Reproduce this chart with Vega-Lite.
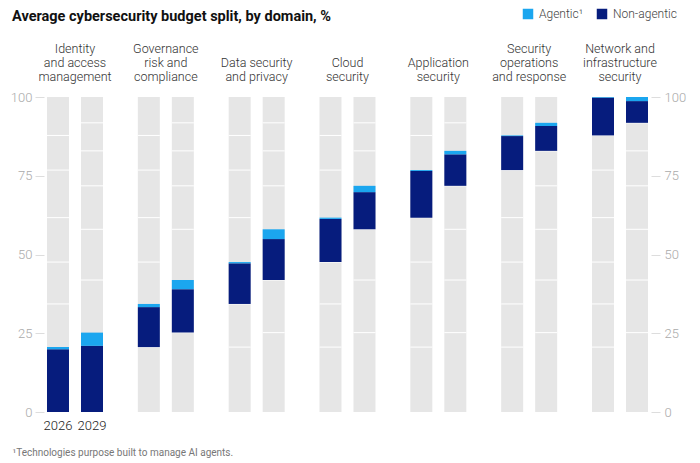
{
  "$schema": "https://vega.github.io/schema/vega-lite/v6.json",
  "width": 607,
  "height": 315,
  "autosize": {"type": "none"},
  "padding": {"left": 44, "top": 97, "right": 49, "bottom": 51},
  "background": "white",
  "config": {
    "view": {"stroke": null},
    "font": "Roboto",
    "axis": {"labelFont": "Roboto", "titleFont": "Roboto"},
    "legend": {"labelFont": "Roboto"}
  },
  "title": {
    "text": "Average cybersecurity budget split, by domain, %",
    "anchor": "start",
    "frame": "group",
    "dx": -32,
    "dy": 36,
    "offset": 20,
    "fontSize": 14.5,
    "fontWeight": "bold",
    "color": "#111111",
    "font": "Roboto"
  },
  "datasets": {
    "budget": [
      {"domain": "Identity and access management", "year": "2026", "type": "Non-agentic", "start": 0, "end": 19.9},
      {"domain": "Identity and access management", "year": "2026", "type": "Agentic", "start": 19.9, "end": 20.6},
      {"domain": "Identity and access management", "year": "2029", "type": "Non-agentic", "start": 0, "end": 21},
      {"domain": "Identity and access management", "year": "2029", "type": "Agentic", "start": 21, "end": 25.2},
      {"domain": "Governance risk and compliance", "year": "2026", "type": "Non-agentic", "start": 20.6, "end": 33.3},
      {"domain": "Governance risk and compliance", "year": "2026", "type": "Agentic", "start": 33.3, "end": 34.3},
      {"domain": "Governance risk and compliance", "year": "2029", "type": "Non-agentic", "start": 25.2, "end": 39},
      {"domain": "Governance risk and compliance", "year": "2029", "type": "Agentic", "start": 39, "end": 41.9},
      {"domain": "Data security and privacy", "year": "2026", "type": "Non-agentic", "start": 34.3, "end": 47.2},
      {"domain": "Data security and privacy", "year": "2026", "type": "Agentic", "start": 47.2, "end": 47.6},
      {"domain": "Data security and privacy", "year": "2029", "type": "Non-agentic", "start": 41.9, "end": 54.9},
      {"domain": "Data security and privacy", "year": "2029", "type": "Agentic", "start": 54.9, "end": 58},
      {"domain": "Cloud security", "year": "2026", "type": "Non-agentic", "start": 47.6, "end": 61.3},
      {"domain": "Cloud security", "year": "2026", "type": "Agentic", "start": 61.3, "end": 61.7},
      {"domain": "Cloud security", "year": "2029", "type": "Non-agentic", "start": 58, "end": 69.8},
      {"domain": "Cloud security", "year": "2029", "type": "Agentic", "start": 69.8, "end": 71.8},
      {"domain": "Application security", "year": "2026", "type": "Non-agentic", "start": 61.7, "end": 76.5},
      {"domain": "Application security", "year": "2026", "type": "Agentic", "start": 76.5, "end": 76.8},
      {"domain": "Application security", "year": "2029", "type": "Non-agentic", "start": 71.8, "end": 81.8},
      {"domain": "Application security", "year": "2029", "type": "Agentic", "start": 81.8, "end": 82.9},
      {"domain": "Security operations and response", "year": "2026", "type": "Non-agentic", "start": 76.8, "end": 87.6},
      {"domain": "Security operations and response", "year": "2026", "type": "Agentic", "start": 87.6, "end": 87.8},
      {"domain": "Security operations and response", "year": "2029", "type": "Non-agentic", "start": 82.9, "end": 90.8},
      {"domain": "Security operations and response", "year": "2029", "type": "Agentic", "start": 90.8, "end": 91.8},
      {"domain": "Network and infrastructure security", "year": "2026", "type": "Non-agentic", "start": 87.8, "end": 99.8},
      {"domain": "Network and infrastructure security", "year": "2026", "type": "Agentic", "start": 99.8, "end": 100},
      {"domain": "Network and infrastructure security", "year": "2029", "type": "Non-agentic", "start": 91.8, "end": 98.7},
      {"domain": "Network and infrastructure security", "year": "2029", "type": "Agentic", "start": 98.7, "end": 100}
    ]
  },
  "data": {"name": "budget"},
  "layer": [
    {
      "transform": [{"filter": "datum.type == 'Non-agentic'"}],
      "mark": {"type": "bar", "color": "#e6e6e6"},
      "encoding": {
        "x": {
          "field": "domain", "type": "nominal", "sort": null,
          "scale": {"paddingInner": 0.3835, "paddingOuter": 0.033},
          "axis": {
            "orient": "top", "title": null, "ticks": false, "domain": false,
            "labelAngle": 0, "labelPadding": 42, "labelFontSize": 12.5, "labelFontWeight": 300,
            "labelColor": "#333333", "labelLineHeight": 14, "labelLimit": 0,
            "labelBaseline": "bottom",
            "labelExpr": "datum.value == 'Identity and access management' ? ['Identity', 'and access', 'management'] : datum.value == 'Governance risk and compliance' ? ['Governance', 'risk and', 'compliance'] : datum.value == 'Data security and privacy' ? ['', 'Data security', 'and privacy'] : datum.value == 'Cloud security' ? ['', 'Cloud', 'security'] : datum.value == 'Application security' ? ['', 'Application', 'security'] : datum.value == 'Security operations and response' ? ['Security', 'operations', 'and response'] : ['Network and', 'infrastructure', 'security']"
          }
        },
        "xOffset": {"field": "year", "type": "nominal", "scale": {"paddingInner": 0.353, "paddingOuter": 0}},
        "y": {"datum": 0, "type": "quantitative", "scale": {"domain": [0, 100], "nice": false}, "axis": null},
        "y2": {"datum": 100}
      }
    },
    {
      "transform": [
        {"filter": "datum.type == 'Agentic'"},
        {"pivot": "domain", "value": "end", "groupby": ["year"]},
        {"fold": ["Identity and access management", "Governance risk and compliance", "Data security and privacy", "Cloud security", "Application security", "Security operations and response", "Network and infrastructure security"], "as": ["column", "colEnd"]},
        {"fold": ["Identity and access management", "Governance risk and compliance", "Data security and privacy", "Cloud security", "Application security", "Security operations and response", "Network and infrastructure security"], "as": ["seg", "boundary"]},
        {"filter": "datum.boundary < 99.9 && datum.seg != datum.column"}
      ],
      "mark": {"type": "tick", "color": "#ffffff", "thickness": 1, "opacity": 1},
      "encoding": {
        "x": {"field": "column", "type": "nominal", "sort": null, "bandPosition": 0.5, "axis": null},
        "xOffset": {"field": "year", "type": "nominal"},
        "y": {
          "field": "boundary", "type": "quantitative",
          "axis": {
            "orient": "right", "values": [0, 25, 50, 75, 100], "title": null,
            "domain": false, "grid": false, "tickSize": 9, "tickColor": "#dddddd",
            "labelColor": "#aaaaaa", "labelFontSize": 13, "labelFontWeight": 300, "labelPadding": 4
          }
        },
        "size": {"value": 22}
      }
    },
    {
      "mark": {"type": "bar"},
      "encoding": {
        "x": {
          "field": "domain", "type": "nominal", "sort": null,
          "axis": {
            "orient": "bottom", "labels": false, "ticks": false, "domain": false,
            "title": "¹Technologies purpose built to manage AI agents.",
            "titleX": -32, "titleY": 40, "titleAlign": "left", "titleAnchor": "start",
            "titleBaseline": "middle", "titleFontSize": 10, "titleFontWeight": "normal",
            "titleColor": "#777777"
          }
        },
        "xOffset": {"field": "year", "type": "nominal"},
        "y": {
          "field": "start", "type": "quantitative",
          "axis": {
            "orient": "left", "values": [0, 25, 50, 75, 100], "title": null,
            "domain": false, "grid": false, "tickSize": 9, "tickColor": "#dddddd",
            "labelColor": "#aaaaaa", "labelFontSize": 13, "labelFontWeight": 300, "labelPadding": 3
          }
        },
        "y2": {"field": "end"},
        "color": {
          "field": "type", "type": "nominal",
          "scale": {"domain": ["Agentic", "Non-agentic"], "range": ["#1ba6ef", "#061c7d"]},
          "legend": {
            "orient": "none", "legendX": 478, "legendY": -89, "direction": "horizontal",
            "title": null, "symbolType": "square", "symbolSize": 110, "symbolStrokeWidth": 0,
            "labelFontSize": 12, "labelFontWeight": 300, "labelColor": "#444444", "columnPadding": 12, "labelOffset": 5,
            "labelExpr": "datum.label == 'Agentic' ? 'Agentic¹' : datum.label"
          }
        }
      }
    },
    {
      "transform": [{"filter": "datum.domain == 'Identity and access management' && datum.type == 'Non-agentic'"}],
      "mark": {"type": "text", "dy": 14, "fontSize": 13, "fontWeight": 300, "color": "#222222", "baseline": "middle", "font": "Roboto"},
      "encoding": {
        "x": {"field": "domain", "type": "nominal", "sort": null, "bandPosition": 0.5, "axis": null},
        "xOffset": {"field": "year", "type": "nominal"},
        "y": {"datum": 0, "type": "quantitative", "axis": null},
        "text": {"field": "year"}
      }
    }
  ],
  "resolve": {"axis": {"x": "independent", "y": "independent"}}
}
